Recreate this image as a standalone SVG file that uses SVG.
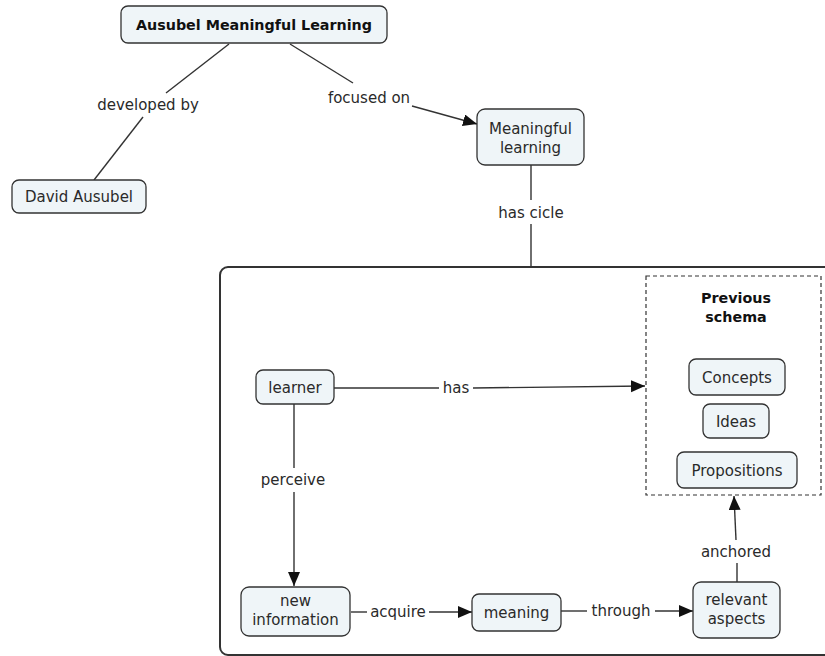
<svg xmlns="http://www.w3.org/2000/svg" width="825" height="656" viewBox="0 0 825 656">
<defs>
<marker id="arr" markerUnits="userSpaceOnUse" markerWidth="15" markerHeight="13" refX="14" refY="6" orient="auto">
<path d="M0,0 L14,6 L0,12 z" fill="#111"/>
</marker>
<style>
.node rect{fill:#eff5f8;stroke:#333;stroke-width:1.3}
.t{font-family:"DejaVu Sans",Verdana,sans-serif;font-size:15px;fill:#2a2a2a;text-anchor:middle}
.b{font-family:"DejaVu Sans",Verdana,sans-serif;font-size:14.3px;font-weight:bold;fill:#111;text-anchor:middle}
.c line{stroke:#333;stroke-width:1.4;fill:none}
.a{marker-end:url(#arr)}
</style>
</defs>
<rect width="825" height="656" fill="#fff"/>
<g id="cycle-frame">
<rect x="220" y="267" width="640" height="388" rx="8" fill="none" stroke="#333" stroke-width="2"/>
</g>
<g id="previous-schema">
<rect x="646" y="276" width="175" height="219" fill="none" stroke="#333" stroke-width="1.2" stroke-dasharray="4,3"/>
<text class="b" x="736" y="303">Previous</text>
<text class="b" x="736" y="322">schema</text>
</g>
<g class="c" id="connectors">
<line x1="229" y1="44" x2="166" y2="93"/>
<line x1="143" y1="117" x2="94" y2="180"/>
<line x1="290" y1="44" x2="353" y2="83"/>
<line class="a" x1="412" y1="106" x2="477" y2="124"/>
<line x1="531" y1="165" x2="531" y2="200"/>
<line x1="531" y1="224" x2="531" y2="267"/>
<line x1="334" y1="388" x2="439" y2="388"/>
<line class="a" x1="473" y1="388" x2="645" y2="386"/>
<line x1="294" y1="404" x2="294" y2="468"/>
<line class="a" x1="294" y1="492" x2="294" y2="586"/>
<line x1="351" y1="612" x2="367" y2="612"/>
<line class="a" x1="429" y1="612" x2="472" y2="612"/>
<line x1="561" y1="611" x2="587" y2="611"/>
<line class="a" x1="655" y1="611" x2="693" y2="611"/>
<line x1="737" y1="582" x2="737" y2="563"/>
<line class="a" x1="736" y1="540" x2="734" y2="496"/>
<text class="t" x="148" y="110">developed by</text>
<text class="t" x="369" y="103">focused on</text>
<text class="t" x="531" y="218">has cicle</text>
<text class="t" x="456" y="393">has</text>
<text class="t" x="293" y="485">perceive</text>
<text class="t" x="398" y="617">acquire</text>
<text class="t" x="621" y="616">through</text>
<text class="t" x="736" y="557">anchored</text>
</g>
<g class="node" id="ausubel-meaningful-learning">
<rect x="121" y="6" width="266" height="37" rx="7"/>
<text class="b" x="254" y="30">Ausubel Meaningful Learning</text>
</g>
<g class="node" id="david-ausubel">
<rect x="12" y="180" width="134" height="33" rx="7"/>
<text class="t" x="79" y="202">David Ausubel</text>
</g>
<g class="node" id="meaningful-learning">
<rect x="477" y="109" width="107" height="56" rx="8"/>
<text class="t" x="530.5" y="134">Meaningful</text>
<text class="t" x="530.5" y="153">learning</text>
</g>
<g class="node" id="learner">
<rect x="256" y="370" width="78" height="34" rx="7"/>
<text class="t" x="295" y="392.5">learner</text>
</g>
<g class="node" id="new-information">
<rect x="241" y="587" width="109" height="49" rx="8"/>
<text class="t" x="295.5" y="606">new</text>
<text class="t" x="295.5" y="625">information</text>
</g>
<g class="node" id="meaning">
<rect x="472" y="594" width="89" height="37" rx="7"/>
<text class="t" x="516.5" y="618">meaning</text>
</g>
<g class="node" id="relevant-aspects">
<rect x="693" y="582" width="87" height="56" rx="8"/>
<text class="t" x="736.5" y="605">relevant</text>
<text class="t" x="736.5" y="624">aspects</text>
</g>
<g class="node" id="concepts">
<rect x="689" y="359" width="96" height="36" rx="7"/>
<text class="t" x="737" y="382.5">Concepts</text>
</g>
<g class="node" id="ideas">
<rect x="703" y="404" width="66" height="34" rx="7"/>
<text class="t" x="736" y="426.5">Ideas</text>
</g>
<g class="node" id="propositions">
<rect x="677" y="452" width="120" height="36" rx="7"/>
<text class="t" x="737" y="475.5">Propositions</text>
</g>
</svg>
